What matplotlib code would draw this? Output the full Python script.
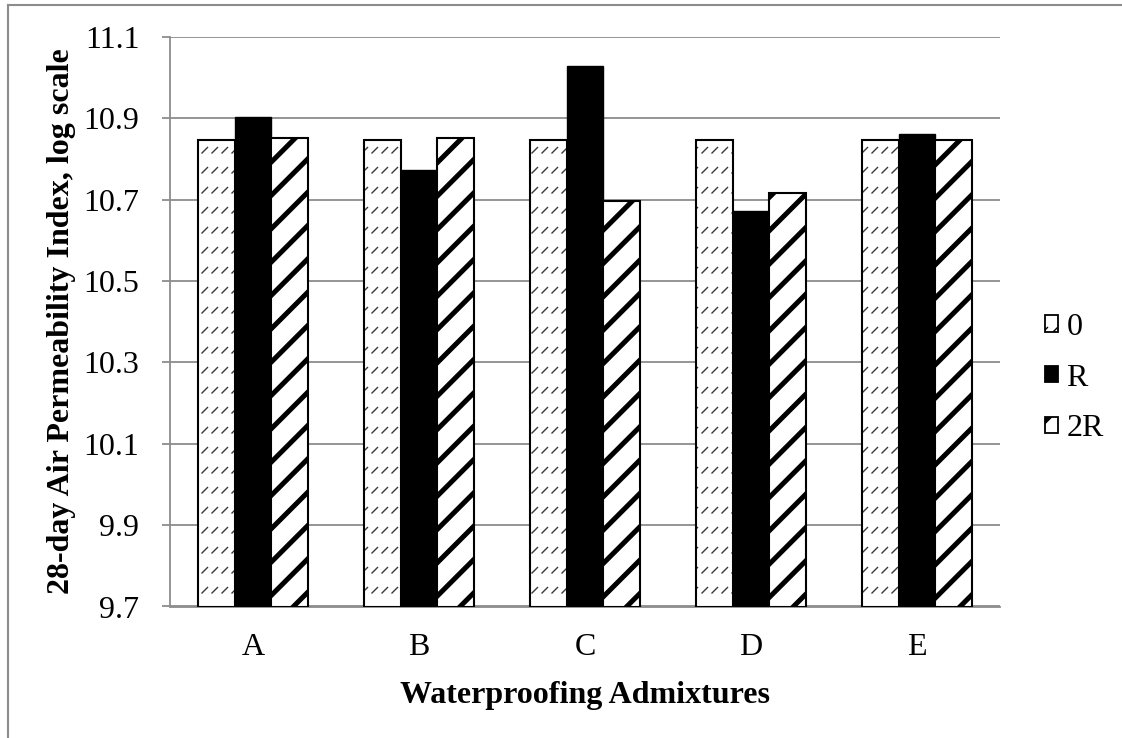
import warnings
import numpy as np
import matplotlib
matplotlib.use("Agg")
import matplotlib.pyplot as plt
import matplotlib.hatch as mhatch
from matplotlib.path import Path
from matplotlib.lines import Line2D

warnings.filterwarnings("ignore")

# ---------------- data ----------------
categories = ["A", "B", "C", "D", "E"]
series_names = ["0", "R", "2R"]
values_0 = [10.845, 10.845, 10.845, 10.845, 10.845]
values_R = [10.902, 10.772, 11.027, 10.672, 10.860]
values_2R = [10.851, 10.851, 10.697, 10.717, 10.845]
y_ticks = [9.7, 9.9, 10.1, 10.3, 10.5, 10.7, 10.9, 11.1]
y_label = "28-day Air Permeability Index, log scale"
x_label = "Waterproofing Admixtures"


# ------------- custom hatch: rows of short diagonal dashes -------------
class DashDiagHatch(mhatch.HatchPatternBase):
    rows = 5
    per_row = 10
    seg = 0.055

    def __init__(self, hatch, density):
        self.on = hatch.count("~") > 0
        self.num_vertices = (self.rows * self.per_row * 2) if self.on else 0

    def set_vertices_and_codes(self, vertices, codes):
        k = 0
        for r in range(self.rows):
            y0 = (r + 0.35) / self.rows
            for c in range(self.per_row):
                x0 = (c + 0.2) / self.per_row
                vertices[k] = (x0, y0)
                vertices[k + 1] = (x0 + self.seg, y0 + self.seg)
                codes[k] = Path.MOVETO
                codes[k + 1] = Path.LINETO
                k += 2


mhatch._hatch_types.append(DashDiagHatch)
mhatch._validate_hatch_pattern = lambda h: None

plt.rcParams["font.family"] = ["Liberation Serif", "DejaVu Serif"]
plt.rcParams["hatch.linewidth"] = 1.0

W, H = 1122, 738
fig = plt.figure(figsize=(W / 100, H / 100), dpi=100)
fig.patch.set_facecolor("white")

ax_left, ax_right, ax_top, ax_bot = 170, 1000, 36.7, 606.5
ax = fig.add_axes([ax_left / W, 1 - ax_bot / H, (ax_right - ax_left) / W,
                   (ax_bot - ax_top) / H])

x = np.arange(len(categories))
bw = 0.2225
base = y_ticks[0]
grey = "#8c8c8c"
FS = 23


def set_hlw(bars, lw):
    for b in bars:
        if hasattr(b, "set_hatch_linewidth"):
            b.set_hatch_linewidth(lw)


# series "0": dashed hatch in dark grey then black outline
h0 = [v - base for v in values_0]
b0 = ax.bar(x - bw, h0, bw, bottom=base, color="white", edgecolor="#3a3a3a",
            hatch="~", linewidth=0, zorder=3)
set_hlw(b0, 1.0)
ax.bar(x - bw, h0, bw, bottom=base, fill=False, edgecolor="black",
       linewidth=1.5, zorder=4)

# series "R": solid black
bR = ax.bar(x, [v - base for v in values_R], bw, bottom=base, color="black",
            edgecolor="black", linewidth=1.0, zorder=3)

# series "2R": thick diagonal stripes
h2 = [v - base for v in values_2R]
b2 = ax.bar(x + bw, h2, bw, bottom=base, color="white", edgecolor="black",
            hatch="/", linewidth=1.5, zorder=3)
set_hlw(b2, 3.6)

ax.set_xlim(-0.5, len(categories) - 0.5)
ax.set_ylim(y_ticks[0], y_ticks[-1])
ax.set_yticks(y_ticks)
ax.set_yticklabels([f"{t:.1f}" for t in y_ticks])
ax.set_xticks(x)
ax.set_xticklabels(categories)

ax.grid(axis="y", color=grey, linewidth=1.3, zorder=0)
ax.set_axisbelow(True)
for s in ["top", "right"]:
    ax.spines[s].set_visible(False)
for s in ["left", "bottom"]:
    ax.spines[s].set_color(grey)
    ax.spines[s].set_linewidth(1.3)
    ax.spines[s].set_zorder(2)

ax.tick_params(axis="y", direction="out", length=6, width=1.3, color=grey,
               labelsize=FS, pad=16)
ax.tick_params(axis="x", length=0, labelsize=FS, pad=19)

fig.text(62 / W, 1 - (ax_top + ax_bot) / 2 / H, y_label, rotation=90,
         ha="center", va="center", fontsize=FS, fontweight="bold")
fig.text((ax_left + ax_right) / 2 / W, 1 - 696 / H, x_label,
         ha="center", va="center", fontsize=FS, fontweight="bold")

leg_handles = [b0[0], bR[0], b2[0]]
leg = fig.legend(leg_handles, series_names, loc="center left",
                 bbox_to_anchor=(1045 / W, 1 - 378 / H), frameon=False,
                 fontsize=FS, handlelength=0.42, handleheight=0.42,
                 handletextpad=0.25, labelspacing=0.68, borderpad=0,
                 borderaxespad=0)
for p, lw in zip(leg.get_patches(), [1.0, 1.0, 3.0]):
    p.set_edgecolor("black")
    p.set_linewidth(1.3)
    if hasattr(p, "set_hatch_linewidth"):
        p.set_hatch_linewidth(lw)

# outer chart frame (left and top edges visible)
fig.add_artist(Line2D([8 / W, 8 / W], [0, 1 - 5 / H], transform=fig.transFigure,
                      color=grey, linewidth=1.5))
fig.add_artist(Line2D([8 / W, 1], [1 - 5 / H, 1 - 5 / H],
                      transform=fig.transFigure, color=grey, linewidth=1.5))

fig.savefig("out.png", dpi=100)
